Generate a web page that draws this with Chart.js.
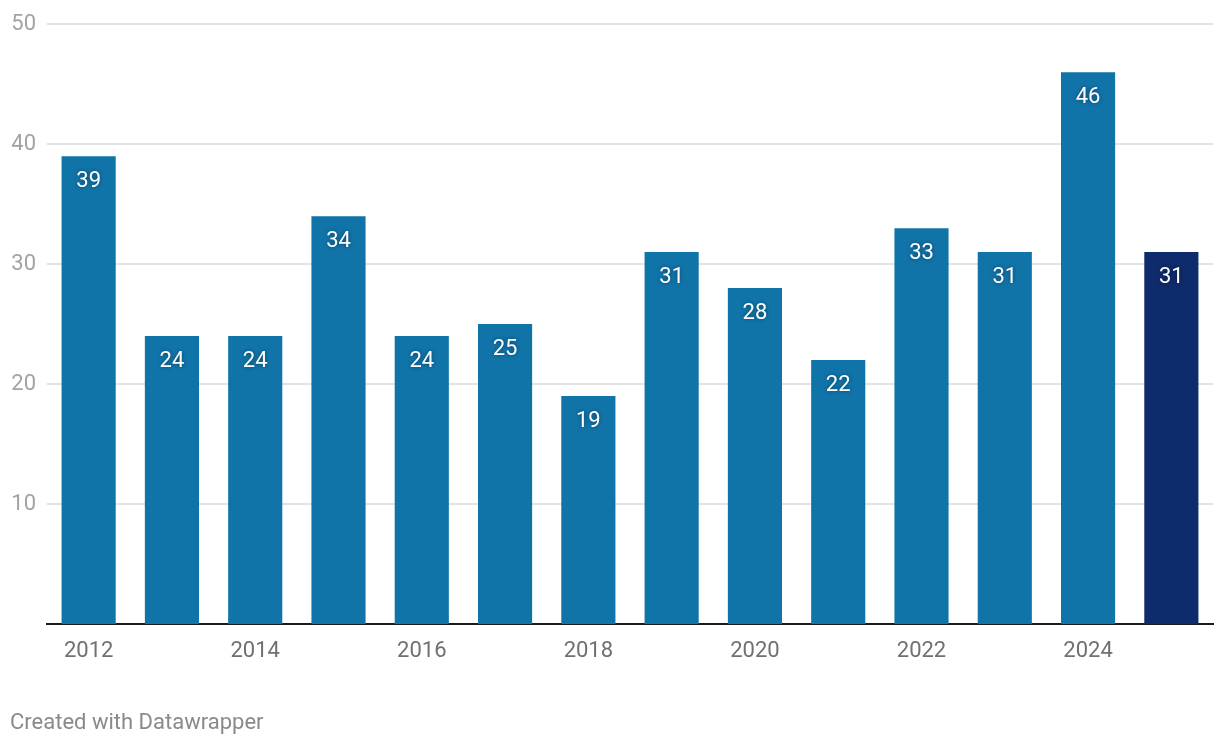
<!DOCTYPE html>
<html>
<head>
<meta charset="utf-8">
<script src="https://cdn.jsdelivr.net/npm/chart.js@4"></script>
<style>
  html, body { margin: 0; padding: 0; background: #fff; }
  #wrap { position: relative; width: 1220px; height: 746px; }
  #nota { position: absolute; left: 10px; top: 709px; font: 22px Roboto, sans-serif; color: #8a8a8a; }
</style>
</head>
<body>
<div id="wrap">
  <canvas id="grafico" width="1220" height="746"></canvas>
  <div id="nota">Created with Datawrapper</div>
</div>
<script>
// Dados do gráfico
const anos = ['2012', '2013', '2014', '2015', '2016', '2017', '2018', '2019', '2020', '2021', '2022', '2023', '2024', '2025'];
const valores = [39, 24, 24, 34, 24, 25, 19, 31, 28, 22, 33, 31, 46, 31];
const ticksY = [10, 20, 30, 40, 50];

const corBarra = '#1174a9';
const corDestaque = '#0e2b6b';
const cores = anos.map((a, i) => i === anos.length - 1 ? corDestaque : corBarra);

// Rótulos de valor dentro das barras
const rotulosPlugin = {
  id: 'rotulos',
  afterDatasetsDraw(chart) {
    const ctx = chart.ctx;
    const meta = chart.getDatasetMeta(0);
    ctx.save();
    ctx.font = '22px Roboto, sans-serif';
    ctx.fillStyle = '#ffffff';
    ctx.textAlign = 'center';
    ctx.textBaseline = 'middle';
    ctx.shadowColor = 'rgba(0,0,0,0.45)';
    ctx.shadowBlur = 4;
    meta.data.forEach((bar, i) => {
      ctx.fillText(String(valores[i]), bar.x, bar.y + 25);
    });
    ctx.restore();
  }
};

new Chart(document.getElementById('grafico').getContext('2d'), {
  type: 'bar',
  data: {
    labels: anos,
    datasets: [{
      data: valores,
      backgroundColor: cores,
      borderWidth: 0,
      barPercentage: 0.65,
      categoryPercentage: 1
    }]
  },
  options: {
    responsive: false,
    animation: false,
    devicePixelRatio: 1,
    layout: { padding: { top: 24, right: 7, left: 0, bottom: 0 } },
    plugins: { legend: { display: false }, tooltip: { enabled: false } },
    scales: {
      x: {
        afterFit(scale) { scale.height = 122; },
        grid: { display: false },
        border: { color: '#1a1a1a', width: 2 },
        ticks: {
          autoSkip: false,
          maxRotation: 0,
          padding: 6,
          color: '#707070',
          font: { family: 'Roboto', size: 22 },
          callback(v, i) { return i % 2 === 0 ? anos[i] : ''; }
        }
      },
      y: {
        min: 0,
        max: 50,
        afterFit(scale) { scale.width = 47; },
        afterBuildTicks(scale) { scale.ticks = ticksY.map(v => ({ value: v })); },
        border: { display: false },
        grid: { color: '#e3e3e3', lineWidth: 2, drawTicks: false },
        ticks: {
          padding: 11,
          color: '#a3a3a3',
          font: { family: 'Roboto', size: 22 }
        }
      }
    }
  },
  plugins: [rotulosPlugin]
});
</script>
</body>
</html>
